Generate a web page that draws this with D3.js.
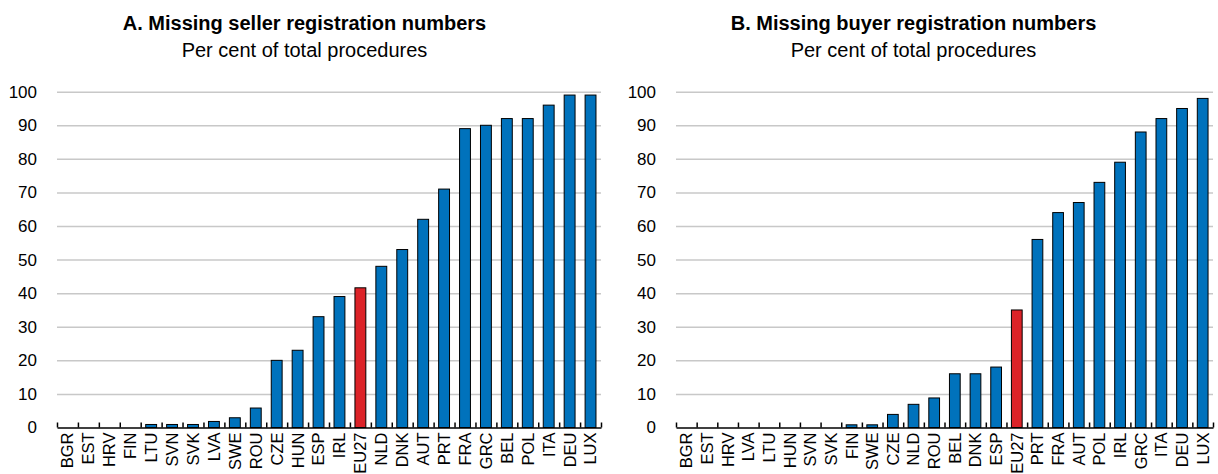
<!DOCTYPE html>
<meta charset="utf-8">
<style>
    body { margin: 0; background: #fff; }
    text { font-family: "Liberation Sans", Arial, sans-serif; fill: #000; }
</style>
<body>
<script src="https://cdn.jsdelivr.net/npm/d3@7"></script>
<script>

    // panel A: missing seller registration numbers
    var sellerCountries = ["BGR","EST","HRV","FIN","LTU","SVN","SVK","LVA","SWE","ROU","CZE","HUN","ESP","IRL","EU27",
        "NLD","DNK","AUT","PRT","FRA","GRC","BEL","POL","ITA","DEU","LUX"];
    var sellerValues = [0, 0, 0, 0, 0.9, 0.9, 0.9, 1.8, 2.9, 5.8, 20, 23, 33, 39, 41.6,
        48, 53, 62, 71, 89, 90, 92, 92, 96, 99, 99];

    // panel B: missing buyer registration numbers
    var buyerCountries = ["BGR","EST","HRV","LVA","LTU","HUN","SVN","SVK","FIN","SWE","CZE","NLD","ROU","BEL","DNK",
        "ESP","EU27","PRT","FRA","AUT","POL","IRL","GRC","ITA","DEU","LUX"];
    var buyerValues = [0, 0, 0, 0, 0, 0, 0, 0, 0.8, 0.8, 3.9, 6.9, 8.8, 16, 16,
        18, 35, 56, 64, 67, 73, 79, 88, 92, 95, 98];

    var yTicks = [0, 10, 20, 30, 40, 50, 60, 70, 80, 90, 100];
    var highlight = "EU27";

    var W = 1218, H = 474;
    var blue = "#0072bc", red = "#dc2328";

    var svg = d3.select("body").append("svg")
        .attr("width", W)
        .attr("height", H);

    var panels = [
        {title: "A. Missing seller registration numbers", sub: "Per cent of total procedures",
         cats: sellerCountries, vals: sellerValues, x0: 0, x1: 609, left: 57, right: 601},
        {title: "B. Missing buyer registration numbers", sub: "Per cent of total procedures",
         cats: buyerCountries, vals: buyerValues, x0: 609, x1: 1218, left: 676, right: 1213}
    ];

    var yTop = 91.7, yBottom = 427.5;

    panels.forEach(function(p) {
        var g = svg.append("g");

        var y = d3.scaleLinear().domain([0, 100]).range([yBottom, yTop]);
        var x = d3.scaleBand().domain(p.cats).range([p.left, p.right])
            .paddingInner(0.48).paddingOuter(0.24);
        var edges = d3.scaleLinear().domain([0, p.cats.length]).range([p.left, p.right]);

        // titles
        g.append("text")
            .attr("x", (p.x0 + p.x1) / 2)
            .attr("y", 30)
            .attr("text-anchor", "middle")
            .style("font-size", "20px")
            .style("font-weight", "bold")
            .text(p.title);
        g.append("text")
            .attr("x", (p.x0 + p.x1) / 2)
            .attr("y", 57)
            .attr("text-anchor", "middle")
            .style("font-size", "20px")
            .text(p.sub);

        // gridlines + y labels
        var yAxis = g.append("g")
            .attr("transform", "translate(" + p.left + ",0)")
            .call(d3.axisLeft(y).tickValues(yTicks).tickSize(-(p.right - p.left)).tickPadding(20));
        yAxis.select(".domain").remove();
        yAxis.selectAll(".tick line")
            .attr("stroke", "#c8c8c8")
            .attr("stroke-width", 1.5)
            .filter(function(d) { return d === 0; }).remove();
        yAxis.selectAll(".tick text")
            .attr("font-family", null)
            .style("font-size", "17px");

        // bars
        g.selectAll("rect.bar")
            .data(p.cats.map(function(c, i) { return {cat: c, val: p.vals[i]}; }))
            .enter().append("rect")
            .attr("class", "bar")
            .attr("x", function(d) { return x(d.cat); })
            .attr("width", x.bandwidth())
            .attr("y", function(d) { return y(d.val); })
            .attr("height", function(d) { return y(0) - y(d.val); })
            .attr("fill", function(d) { return d.cat === highlight ? red : blue; })
            .attr("stroke", "#000")
            .attr("stroke-width", function(d) { return d.val > 0 ? 1 : 0; });

        // baseline with ticks between categories
        var tickAxis = g.append("g")
            .attr("transform", "translate(0," + yBottom + ")")
            .call(d3.axisBottom(edges).tickValues(d3.range(p.cats.length + 1))
                .tickSize(-5).tickSizeOuter(0).tickFormat(""));
        tickAxis.select(".domain").attr("stroke-width", 1.5);
        tickAxis.selectAll(".tick line").attr("stroke-width", 1.5);

        // category labels
        var catAxis = g.append("g")
            .attr("transform", "translate(0," + yBottom + ")")
            .call(d3.axisBottom(x).tickSize(0));
        catAxis.select(".domain").remove();
        catAxis.selectAll("text")
            .attr("font-family", null)
            .style("font-size", "16.5px")
            .attr("transform", "rotate(-90)")
            .attr("text-anchor", "end")
            .attr("x", -5)
            .attr("y", 0)
            .attr("dy", "0.36em");
    });

</script>
